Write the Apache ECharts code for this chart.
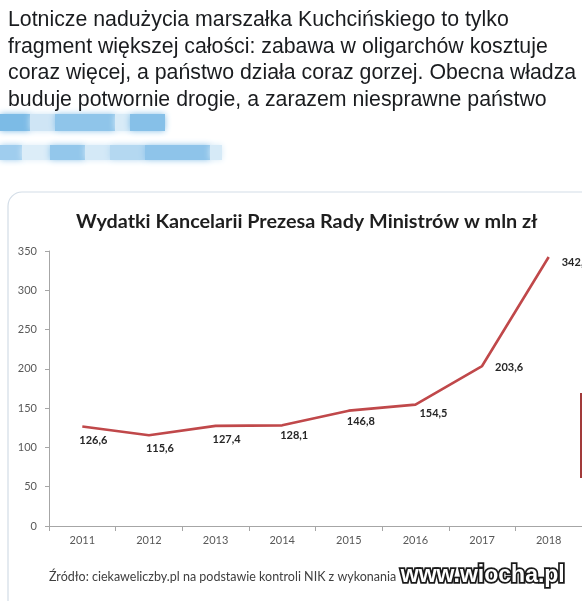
<!DOCTYPE html>
<html>
<head>
<meta charset="utf-8">
<script src="https://cdn.jsdelivr.net/npm/echarts@6/dist/echarts.min.js"></script>
<style>
  html, body { margin: 0; padding: 0; background: #ffffff; }
  #chart { width: 582px; height: 601px; }
</style>
</head>
<body>
<div id="chart"></div>
<script>
// ---- Data ----
const years = ['2011', '2012', '2013', '2014', '2015', '2016', '2017', '2018'];
const spending = [126.6, 115.6, 127.4, 128.1, 146.8, 154.5, 203.6, 342.4];
const yAxisMin = 0;
const yAxisMax = 350;
const yAxisStep = 50;
const chartTitle = 'Wydatki Kancelarii Prezesa Rady Ministrów w mln zł';
const sourceText = 'Źródło: ciekaweliczby.pl na podstawie kontroli NIK z wykonania';
const watermarkText = 'www.wiocha.pl';
const tweetLines = [
  'Lotnicze nadużycia marszałka Kuchcińskiego to tylko',
  'fragment większej całości: zabawa w oligarchów kosztuje',
  'coraz więcej, a państwo działa coraz gorzej. Obecna władza',
  'buduje potwornie drogie, a zarazem niesprawne państwo'
];

// ---- Chart ----
const chart = echarts.init(document.getElementById('chart'), null, { renderer: 'canvas' });

const fmt = v => v.toFixed(1).replace('.', ',');
const lastIdx = years.length - 1;

const seriesData = spending.map((v, i) => {
  const item = { value: v };
  if (i >= lastIdx - 1) {
    item.label = { position: 'right' };
  }
  return item;
});

const graphics = [];
// tweet text
tweetLines.forEach((line, i) => {
  graphics.push({
    type: 'text', left: 8, top: 9.5 + i * 26.7, z: 10,
    style: { text: line, fill: '#1a1c1f', font: '21.3px "Liberation Sans", Arial, sans-serif' }
  });
});
// pixelated blurred username blocks
const blurBlocks = [
  [0, 114, 30, 17, '#7cbbe6'], [30, 114, 25, 17, '#cfe5f5'], [55, 114, 60, 17, '#8fc5ea'],
  [115, 114, 15, 17, '#d8ebf7'], [130, 114, 35, 17, '#86c0e8'],
  [0, 145, 22, 15, '#9fcdee'], [22, 145, 28, 15, '#dcedf8'], [50, 145, 35, 15, '#93c7eb'],
  [85, 145, 25, 15, '#d4e9f7'], [110, 145, 35, 15, '#b4d8f1'], [145, 145, 65, 15, '#8ec4ea'],
  [210, 145, 12, 15, '#d6eaf7']
];
blurBlocks.forEach(b => {
  graphics.push({
    type: 'rect', z: 5,
    shape: { x: b[0], y: b[1], width: b[2], height: b[3] },
    style: { fill: b[4], shadowBlur: 6, shadowColor: b[4] }
  });
});
// chart frame
graphics.push({
  type: 'rect', z: -10,
  shape: { x: 8, y: 192, width: 620, height: 450, r: 14 },
  style: { fill: '#ffffff', stroke: '#d3dde7', lineWidth: 1.2 }
});
// source text
graphics.push({
  type: 'text', left: 49, top: 570, z: 10,
  style: { text: sourceText, fill: '#404040', font: '12.5px Lato, "Open Sans", sans-serif' }
});
// watermark
graphics.push({
  type: 'text', left: 399, top: 562, z: 20,
  style: {
    text: watermarkText, fill: '#ffffff', stroke: '#1a1a1a', lineWidth: 3.5,
    font: 'bold 23px "Liberation Sans", sans-serif'
  }
});
// partially visible red element at right edge
graphics.push({
  type: 'rect', z: 10,
  shape: { x: 580, y: 393, width: 2, height: 85 },
  style: { fill: '#a23a3a' }
});

const option = {
  backgroundColor: '#ffffff',
  animation: false,
  title: {
    text: chartTitle,
    left: 76, top: 212, padding: 0,
    textStyle: { fontFamily: 'Lato, sans-serif', fontWeight: 'bold', fontSize: 19.8, color: '#1e1e1e' }
  },
  grid: { left: 49, top: 251, width: 539, height: 275, containLabel: false },
  xAxis: {
    type: 'category',
    data: years,
    boundaryGap: true,
    axisLine: { lineStyle: { color: '#a6a6a6', width: 1 } },
    axisTick: { show: true, length: 5, lineStyle: { color: '#a6a6a6' } },
    axisLabel: { color: '#595959', fontFamily: 'Lato, sans-serif', fontSize: 11, margin: 9 },
    splitLine: { show: false }
  },
  yAxis: {
    type: 'value',
    min: yAxisMin, max: yAxisMax, interval: yAxisStep,
    axisLine: { show: true, lineStyle: { color: '#a6a6a6', width: 1 } },
    axisTick: { show: true, length: 4, lineStyle: { color: '#a6a6a6' } },
    axisLabel: { color: '#595959', fontFamily: 'Lato, sans-serif', fontSize: 11, margin: 12 },
    splitLine: { show: false }
  },
  series: [{
    type: 'line',
    data: seriesData,
    showSymbol: true,
    symbol: 'circle',
    symbolSize: 0.1,
    lineStyle: { color: '#c0484a', width: 2.6 },
    itemStyle: { color: '#c0484a' },
    label: {
      show: true,
      position: 'bottom',
      distance: 4,
      formatter: p => fmt(p.value),
      color: '#262626',
      fontFamily: 'Lato, sans-serif',
      fontWeight: 'bold',
      fontSize: 11
    },
    labelLayout: params => {
      const i = params.dataIndex;
      if (i === lastIdx) return { dx: 9, dy: 5, hideOverlap: false };
      if (i === lastIdx - 1) return { dx: 9, dy: 1, hideOverlap: false };
      if (i === lastIdx - 2) return { dx: 18, dy: -1, hideOverlap: false };
      if (i >= 3) return { dx: 12, dy: 1, hideOverlap: false };
      return { dx: 11, dy: 4, hideOverlap: false };
    },
    z: 5
  }],
  graphic: { elements: graphics }
};

chart.setOption(option);
</script>
</body>
</html>
